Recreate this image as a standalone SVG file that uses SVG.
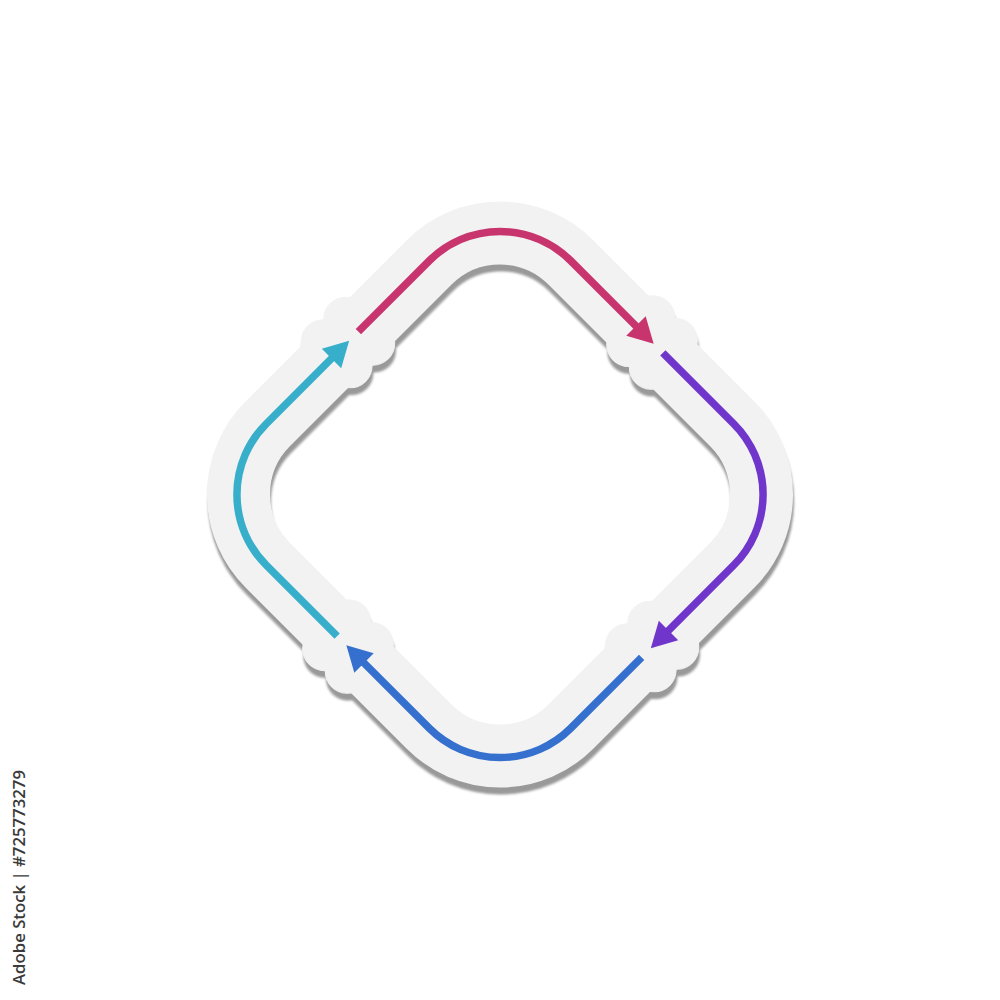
<svg xmlns="http://www.w3.org/2000/svg" xmlns:xlink="http://www.w3.org/1999/xlink" width="1000" height="1000" viewBox="0 0 1000 1000">
  <style>
    .arrow { fill: none; stroke-width: 7.5; stroke-linecap: butt; }
    .credit { font-family: "Open Sans", "Liberation Sans", sans-serif; font-weight: 600; font-size: 15.5px; fill: #3a3a3a; }
  </style>
  <defs>
    <filter id="soft" x="-10%" y="-10%" width="120%" height="120%">
      <feGaussianBlur stdDeviation="0.8"/>
    </filter>
    <g id="bandShape">
      <rect x="-214.2" y="-214.2" width="428.4" height="428.4" rx="100" ry="100" fill="none" stroke-width="63"/>
      <!-- bulges at side midpoints -->
      <g id="knobL">
        <circle cx="-233" cy="-15" r="22"/>
        <circle cx="-233" cy="17" r="22"/>
        <circle cx="-197" cy="-17" r="22"/>
        <circle cx="-197" cy="15" r="22"/>
      </g>
      <use xlink:href="#knobL" transform="rotate(90)"/>
      <use xlink:href="#knobL" transform="rotate(180)"/>
      <use xlink:href="#knobL" transform="rotate(270)"/>
    </g>
  </defs>

  <g id="ring" transform="translate(500,494.5) rotate(45)">
    <g id="shadow" transform="rotate(-45) translate(1,7) rotate(45)" filter="url(#soft)">
      <use xlink:href="#bandShape" fill="#999999" stroke="#999999"/>
    </g>
    <use id="band" xlink:href="#bandShape" fill="#f2f2f2" stroke="#f2f2f2"/>
  </g>

  <g id="connectors" transform="translate(500,494.5) rotate(45)">
    <g id="arrow-pink">
      <path class="arrow" stroke="#c8346e" d="M -215.3 -15 L -215.3 -115.3 A 100 100 0 0 1 -115.3 -215.3 L -20 -215.3"/>
      <polygon fill="#c8346e" points="2,-215.3 -23,-229 -23,-201.6"/>
    </g>
    <g id="arrow-purple">
      <path class="arrow" stroke="#7035cb" d="M 15 -215.3 L 115.3 -215.3 A 100 100 0 0 1 215.3 -115.3 L 215.3 -20"/>
      <polygon fill="#7035cb" points="215.3,2 229,-23 201.6,-23"/>
    </g>
    <g id="arrow-blue">
      <path class="arrow" stroke="#3570cf" d="M 215.3 15 L 215.3 115.3 A 100 100 0 0 1 115.3 215.3 L 20 215.3"/>
      <polygon fill="#3570cf" points="-2,215.3 23,229 23,201.6"/>
    </g>
    <g id="arrow-cyan">
      <path class="arrow" stroke="#37aeca" d="M -15 215.3 L -115.3 215.3 A 100 100 0 0 1 -215.3 115.3 L -215.3 20"/>
      <polygon fill="#37aeca" points="-215.3,-2 -229,23 -201.6,23"/>
    </g>
  </g>

  <text class="credit" transform="translate(25,985) rotate(-90)" textLength="215" lengthAdjust="spacingAndGlyphs">Adobe Stock | #725773279</text>
</svg>
